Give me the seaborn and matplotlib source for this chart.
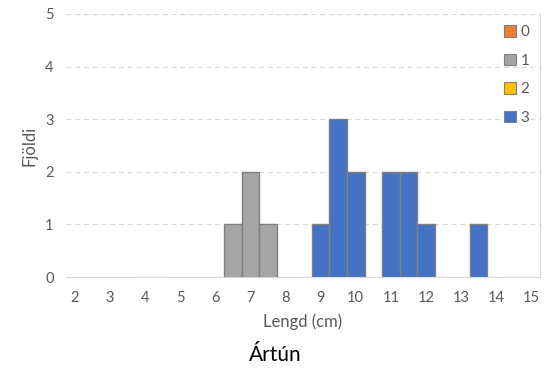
import matplotlib
matplotlib.use("Agg")
import matplotlib.pyplot as plt
import seaborn as sns
import pandas as pd
from matplotlib.patches import Patch

# categories (length bins, cm)
lengths = ["2", "2.5", "3", "3.5", "4", "4.5", "5", "5.5", "6", "6.5", "7", "7.5",
           "8", "8.5", "9", "9.5", "10", "10.5", "11", "11.5", "12", "12.5", "13",
           "13.5", "14", "14.5", "15"]
tick_labels = ["2", "3", "4", "5", "6", "7", "8", "9", "10", "11", "12", "13", "14", "15"]

# group 1 (gray)
g1_len = ["6.5", "7", "7.5"]
g1_cnt = [1, 2, 1]
# group 3 (blue)
g3_len = ["9", "9.5", "10", "11", "11.5", "12", "13.5"]
g3_cnt = [1, 3, 2, 2, 2, 1, 1]

groups = ["0", "1", "2", "3"]
colors = {"0": "#ED7D31", "1": "#A5A5A5", "2": "#FFC000", "3": "#4472C4"}

df = pd.DataFrame({
    "length": g1_len + g3_len,
    "count": g1_cnt + g3_cnt,
    "group": ["1"] * len(g1_len) + ["3"] * len(g3_len),
})

sns.set_style("white")
plt.rcParams["font.family"] = ["Lato", "DejaVu Sans"]

fig = plt.figure(figsize=(5.5, 3.76), dpi=100)
ax = fig.add_axes([0.12, 0.263, 0.862, 0.70])

sns.barplot(data=df, x="length", y="count", hue="group", order=lengths,
            hue_order=groups, palette=colors, dodge=False, width=1.0,
            edgecolor="#7F7F7F", linewidth=1.0, saturation=1, legend=False, ax=ax)

ax.set_xlim(-0.5, len(lengths) - 0.5)
ax.set_ylim(0, 5)
ax.set_yticks([0, 1, 2, 3, 4, 5])
ax.yaxis.grid(True, color="#D9D9D9", linestyle=(0, (4, 3)), linewidth=0.9)
ax.set_axisbelow(True)

pos = [lengths.index(t) for t in tick_labels]
ax.set_xticks(pos)
ax.set_xticklabels(tick_labels)
ax.set_xticks([i - 0.5 for i in range(len(lengths) + 1)], minor=True)
ax.tick_params(axis="x", which="major", length=0, pad=10, labelsize=10.5, labelcolor="#595959")
ax.tick_params(axis="x", which="minor", length=5, color="#D9D9D9", width=1)
ax.tick_params(axis="y", length=0, pad=9, labelsize=10.5, labelcolor="#595959")

for s in ["left", "top"]:
    ax.spines[s].set_visible(False)
ax.spines["bottom"].set_color("#D9D9D9")
ax.spines["right"].set_color("#D9D9D9")

ax.set_xlabel("Lengd (cm)", fontsize=12, color="#595959", labelpad=6)
ax.set_ylabel("Fjöldi", fontsize=12, color="#595959", labelpad=5)

handles = [Patch(facecolor=colors[g], edgecolor="#7F7F7F", linewidth=0.8) for g in groups]
leg = ax.legend(handles, groups, loc="upper right", bbox_to_anchor=(0.99, 0.98),
                frameon=False, fontsize=11, labelcolor="#595959",
                handlelength=0.75, handleheight=0.75, handletextpad=0.3,
                labelspacing=0.95, borderaxespad=0)

fig.text(0.5, 0.03, "Ártún", ha="center", va="bottom", fontsize=15, color="black")

fig.savefig("out.png", dpi=100)
